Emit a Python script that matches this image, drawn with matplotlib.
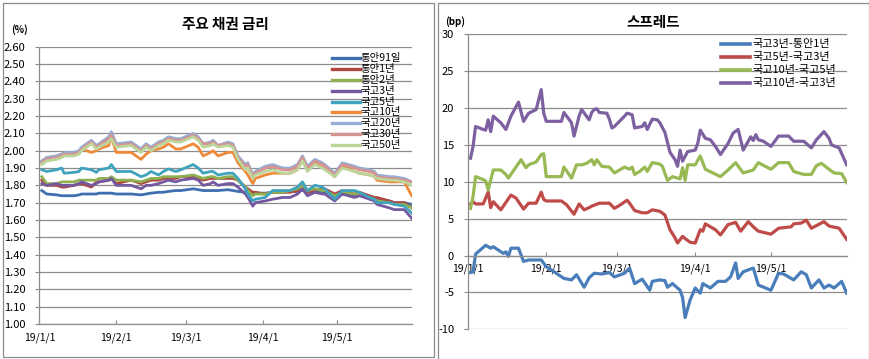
import matplotlib
matplotlib.use("Agg")
import matplotlib.pyplot as plt
import matplotlib.dates as mdates
from matplotlib.lines import Line2D
from matplotlib.patches import Rectangle
from matplotlib.ticker import MultipleLocator, FuncFormatter
import pandas as pd

plt.rcParams['font.family'] = ['Noto Sans CJK KR', 'DejaVu Sans']

# ---- 주요 채권 금리 (%) : shared date grid ----
rate_dates = ['01-02', '01-04', '01-08', '01-10', '01-11', '01-15', '01-17', '01-18', '01-22', '01-24', '01-25', '01-29', '01-30',
              '02-01', '02-07', '02-11', '02-13', '02-15', '02-18', '02-20', '02-22', '02-25', '02-27',
              '03-04', '03-06', '03-08', '03-11', '03-12', '03-14', '03-18', '03-20', '03-22', '03-25', '03-26', '03-28', '03-29',
              '04-02', '04-05', '04-09', '04-12', '04-15', '04-17', '04-19', '04-22', '04-25', '04-26', '04-30',
              '05-03', '05-08', '05-10', '05-14', '05-16', '05-17', '05-22', '05-24', '05-28', '05-31']

msb_91d = [1.77, 1.75, 1.745, 1.74, 1.74, 1.74, 1.745, 1.75, 1.75, 1.75, 1.755, 1.755, 1.755,
           1.75, 1.75, 1.745, 1.75, 1.755, 1.76, 1.76, 1.765, 1.77, 1.77,
           1.78, 1.775, 1.77, 1.77, 1.77, 1.77, 1.775, 1.77, 1.765, 1.76, 1.755, 1.755, 1.755,
           1.755, 1.76, 1.76, 1.765, 1.765, 1.77, 1.765, 1.765, 1.76, 1.76, 1.745,
           1.75, 1.74, 1.745, 1.73, 1.72, 1.72, 1.71, 1.70, 1.70, 1.69]
msb_1y = [1.83, 1.80, 1.80, 1.79, 1.79, 1.80, 1.81, 1.81, 1.79, 1.82, 1.82, 1.83, 1.84,
          1.81, 1.83, 1.81, 1.82, 1.83, 1.83, 1.84, 1.84, 1.84, 1.85,
          1.85, 1.84, 1.83, 1.84, 1.84, 1.84, 1.84, 1.84, 1.83, 1.79, 1.78, 1.76, 1.76,
          1.75, 1.76, 1.76, 1.76, 1.77, 1.78, 1.76, 1.77, 1.78, 1.78, 1.75,
          1.77, 1.75, 1.76, 1.74, 1.73, 1.73, 1.71, 1.70, 1.70, 1.67]
msb_2y = [1.85, 1.81, 1.81, 1.82, 1.82, 1.82, 1.83, 1.83, 1.83, 1.83, 1.84, 1.84, 1.85,
          1.83, 1.83, 1.82, 1.83, 1.84, 1.84, 1.85, 1.85, 1.85, 1.85,
          1.86, 1.85, 1.84, 1.85, 1.85, 1.84, 1.85, 1.85, 1.83, 1.79, 1.77, 1.74, 1.75,
          1.75, 1.76, 1.76, 1.77, 1.78, 1.80, 1.77, 1.78, 1.77, 1.77, 1.74,
          1.76, 1.75, 1.75, 1.73, 1.72, 1.71, 1.70, 1.69, 1.69, 1.67]
ktb_3y = [1.81, 1.80, 1.81, 1.80, 1.80, 1.80, 1.81, 1.82, 1.80, 1.81, 1.82, 1.83, 1.84,
          1.80, 1.80, 1.78, 1.80, 1.80, 1.81, 1.82, 1.83, 1.82, 1.83,
          1.84, 1.83, 1.80, 1.81, 1.82, 1.80, 1.81, 1.81, 1.79, 1.75, 1.73, 1.68, 1.70,
          1.71, 1.72, 1.73, 1.73, 1.75, 1.78, 1.74, 1.76, 1.75, 1.75, 1.71,
          1.75, 1.73, 1.74, 1.72, 1.71, 1.69, 1.67, 1.66, 1.66, 1.61]
ktb_5y = [1.89, 1.88, 1.89, 1.90, 1.87, 1.875, 1.88, 1.90, 1.89, 1.875, 1.89, 1.90, 1.92,
          1.88, 1.88, 1.85, 1.86, 1.88, 1.86, 1.88, 1.895, 1.88, 1.89,
          1.92, 1.90, 1.87, 1.88, 1.88, 1.86, 1.87, 1.87, 1.84, 1.78, 1.75, 1.71, 1.72,
          1.73, 1.77, 1.77, 1.77, 1.79, 1.82, 1.77, 1.80, 1.79, 1.78, 1.72,
          1.77, 1.77, 1.76, 1.73, 1.72, 1.70, 1.70, 1.69, 1.68, 1.64]
ktb_10y = [1.94, 1.96, 1.97, 1.98, 1.98, 1.98, 1.99, 2.01, 1.99, 2.00, 2.01, 2.03, 2.08,
           1.99, 1.99, 1.95, 1.98, 2.00, 2.01, 2.02, 2.04, 2.01, 2.01,
           2.04, 2.02, 1.97, 1.99, 2.00, 1.97, 1.99, 1.99, 1.93, 1.88, 1.86, 1.81, 1.84,
           1.86, 1.87, 1.87, 1.87, 1.89, 1.95, 1.89, 1.93, 1.91, 1.90, 1.85,
           1.91, 1.88, 1.87, 1.86, 1.85, 1.83, 1.82, 1.82, 1.82, 1.74]
ktb_20y = [1.94, 1.96, 1.97, 1.98, 1.99, 1.99, 2.00, 2.02, 2.06, 2.03, 2.04, 2.08, 2.11,
           2.04, 2.05, 2.01, 2.04, 2.02, 2.05, 2.06, 2.08, 2.07, 2.07,
           2.10, 2.08, 2.04, 2.05, 2.06, 2.03, 2.05, 2.04, 1.97, 1.92, 1.93, 1.86, 1.88,
           1.91, 1.92, 1.90, 1.90, 1.92, 1.97, 1.91, 1.95, 1.93, 1.92, 1.87,
           1.93, 1.91, 1.90, 1.89, 1.88, 1.86, 1.85, 1.85, 1.84, 1.82]
ktb_30y = [1.93, 1.95, 1.96, 1.97, 1.98, 1.98, 1.99, 2.01, 2.05, 2.02, 2.03, 2.07, 2.09,
           2.03, 2.04, 2.00, 2.03, 2.01, 2.04, 2.05, 2.07, 2.06, 2.06,
           2.09, 2.07, 2.04, 2.04, 2.05, 2.03, 2.04, 2.03, 1.96, 1.91, 1.92, 1.85, 1.87,
           1.90, 1.91, 1.89, 1.89, 1.91, 1.96, 1.90, 1.94, 1.92, 1.91, 1.86,
           1.92, 1.90, 1.89, 1.88, 1.87, 1.85, 1.84, 1.84, 1.83, 1.82]
ktb_50y = [1.92, 1.94, 1.95, 1.96, 1.97, 1.97, 1.98, 2.00, 2.04, 2.01, 2.02, 2.05, 2.07,
           2.02, 2.03, 1.99, 2.02, 2.00, 2.03, 2.04, 2.06, 2.05, 2.05,
           2.08, 2.06, 2.02, 2.03, 2.04, 2.02, 2.03, 2.02, 1.95, 1.89, 1.90, 1.84, 1.86,
           1.88, 1.89, 1.87, 1.87, 1.89, 1.94, 1.88, 1.92, 1.90, 1.89, 1.85,
           1.90, 1.88, 1.87, 1.86, 1.85, 1.84, 1.83, 1.83, 1.82, 1.80]

rate_names = ['통안91일', '통안1년', '통안2년', '국고3년', '국고5년', '국고10년', '국고20년', '국고30년', '국고50년']
rate_colors = ['#3F6FAE', '#B04642', '#8FB050', '#7459A0', '#3FA3BE', '#EE8A3A', '#93ADD6', '#D69491', '#BCD59A']

# ---- 스프레드 (bp) ----
sp_3y_1y_dates = ['01-02', '01-03', '01-04', '01-08', '01-10', '01-11', '01-15', '01-16', '01-17', '01-18', '01-21', '01-23',
                  '01-25', '01-30', '02-01', '02-08', '02-11', '02-13', '02-16', '02-18', '02-20', '02-23', '02-26', '02-28',
                  '03-04', '03-06', '03-08', '03-11', '03-14', '03-15', '03-18', '03-20', '03-21', '03-23', '03-26', '03-27',
                  '03-28', '03-30', '04-01', '04-03', '04-04', '04-07', '04-10', '04-13', '04-15', '04-17', '04-18', '04-20',
                  '04-24', '04-26', '05-01', '05-04', '05-06', '05-10', '05-13', '05-15', '05-17', '05-20', '05-22', '05-24',
                  '05-26', '05-29', '05-31']
sp_3y_1y = [-2.3, -2.2, 0.2, 1.4, 1.0, 1.2, 0.3, 0.5, -0.1, 1.0, 1.0, -0.8,
            -0.6, -0.6, -1.5, -3.1, -3.3, -2.6, -4.3, -3.0, -2.4, -2.5, -2.3, -2.9,
            -2.4, -1.7, -3.8, -3.2, -4.7, -3.5, -3.3, -3.4, -4.3, -3.8, -4.7, -5.7,
            -8.4, -6.0, -4.4, -5.1, -3.8, -4.4, -3.5, -3.5, -2.9, -1.0, -3.1, -2.2,
            -1.7, -4.0, -4.7, -2.4, -2.5, -3.3, -2.2, -2.6, -4.4, -3.3, -4.4, -4.0,
            -4.4, -3.5, -5.1]

sp_5y_3y_dates = ['01-02', '01-03', '01-04', '01-07', '01-09', '01-10', '01-11', '01-14', '01-18', '01-20', '01-23', '01-25',
                  '01-28', '01-30', '01-31', '02-01', '02-07', '02-09', '02-12', '02-14', '02-16', '02-18', '02-19', '02-22',
                  '02-26', '02-28', '03-02', '03-05', '03-06', '03-08', '03-11', '03-13', '03-15', '03-18', '03-20', '03-22',
                  '03-24', '03-25', '03-27', '03-28', '03-30', '04-01', '04-03', '04-04', '04-05', '04-07', '04-09', '04-11',
                  '04-14', '04-17', '04-19', '04-22', '04-24', '04-26', '05-01', '05-04', '05-09', '05-10', '05-13', '05-15',
                  '05-17', '05-22', '05-24', '05-28', '05-31']
sp_5y_3y = [7.0, 7.3, 7.0, 7.0, 8.6, 6.5, 7.3, 6.2, 8.2, 7.8, 6.3, 7.1,
            7.1, 8.6, 7.6, 7.4, 7.4, 6.9, 5.6, 7.0, 6.2, 6.5, 6.7, 7.1,
            7.1, 6.4, 6.8, 7.5, 7.1, 6.1, 5.8, 5.8, 6.2, 6.0, 5.5, 3.5,
            2.4, 1.7, 2.6, 2.3, 1.8, 1.7, 3.5, 3.3, 4.3, 3.9, 3.5, 2.8,
            4.2, 4.5, 3.3, 4.6, 3.9, 3.3, 2.9, 3.7, 3.9, 4.3, 4.4, 4.8,
            3.7, 4.6, 4.0, 3.7, 2.2]

sp_10y_5y_dates = ['01-02', '01-03', '01-04', '01-07', '01-08', '01-09', '01-11', '01-14', '01-16', '01-17', '01-22', '01-24',
                   '01-25', '01-28', '01-30', '01-31', '02-01', '02-07', '02-08', '02-11', '02-13', '02-15', '02-17', '02-19',
                   '02-20', '02-21', '02-23', '02-26', '02-28', '03-02', '03-04', '03-06', '03-07', '03-08', '03-10', '03-12',
                   '03-13', '03-15', '03-18', '03-19', '03-21', '03-23', '03-26', '03-27', '03-28', '03-29', '04-01', '04-03',
                   '04-05', '04-08', '04-11', '04-14', '04-17', '04-20', '04-24', '04-26', '05-01', '05-04', '05-08', '05-10',
                   '05-14', '05-17', '05-19', '05-21', '05-24', '05-26', '05-29', '05-31']
sp_10y_5y = [6.4, 8.0, 10.7, 10.3, 10.1, 8.9, 11.6, 11.6, 11.0, 10.5, 13.0, 11.9,
             12.3, 12.7, 13.7, 13.8, 10.7, 10.7, 12.0, 10.5, 12.3, 12.3, 12.5, 13.0,
             12.3, 13.0, 12.1, 12.0, 11.2, 11.6, 12.0, 11.7, 12.0, 11.0, 11.4, 12.0,
             11.4, 12.6, 12.4, 12.1, 10.2, 10.7, 10.4, 11.9, 10.2, 12.3, 12.3, 13.5,
             11.7, 11.2, 10.7, 11.6, 12.6, 11.2, 11.6, 12.6, 11.7, 12.6, 12.6, 11.4,
             11.0, 11.0, 12.2, 12.5, 11.7, 11.2, 11.1, 9.9]

sp_10y_3y_dates = ['01-02', '01-03', '01-04', '01-07', '01-08', '01-09', '01-10', '01-11', '01-14', '01-16', '01-18', '01-21',
                   '01-23', '01-25', '01-28', '01-30', '01-31', '02-01', '02-07', '02-08', '02-11', '02-12', '02-14', '02-15',
                   '02-18', '02-19', '02-20', '02-21', '02-22', '02-25', '02-26', '02-27', '02-28', '03-04', '03-05', '03-07',
                   '03-08', '03-11', '03-12', '03-13', '03-15', '03-17', '03-18', '03-20', '03-22', '03-24', '03-25', '03-26',
                   '03-27', '03-29', '04-01', '04-02', '04-03', '04-05', '04-07', '04-09', '04-11', '04-14', '04-16', '04-18',
                   '04-20', '04-22', '04-23', '04-24', '04-25', '04-26', '04-28', '05-01', '05-04', '05-08', '05-10', '05-14',
                   '05-17', '05-19', '05-22', '05-24', '05-25', '05-28', '05-31']
sp_10y_3y = [13.2, 14.8, 17.5, 17.1, 17.0, 18.4, 16.8, 18.9, 18.0, 17.1, 18.9, 20.8,
             18.2, 19.3, 19.8, 22.5, 19.3, 18.2, 18.2, 19.4, 18.0, 16.2, 18.9, 19.8,
             18.4, 19.4, 19.8, 19.9, 19.4, 19.3, 18.5, 17.3, 17.5, 18.9, 19.3, 19.1,
             17.3, 17.5, 18.0, 17.1, 18.5, 18.4, 18.0, 16.7, 14.0, 13.0, 12.1, 14.3,
             12.8, 14.1, 14.3, 15.2, 17.0, 15.9, 15.7, 14.8, 13.7, 15.2, 16.6, 17.1,
             14.3, 15.5, 16.1, 15.6, 16.4, 15.7, 15.5, 14.8, 16.2, 16.2, 15.5, 15.5,
             14.6, 15.7, 16.8, 15.9, 15.0, 14.6, 12.3]

spread_names = ['국고3년-통안1년', '국고5년-국고3년', '국고10년-국고5년', '국고10년-국고3년']
spread_colors = ['#4A7EBB', '#BE4B48', '#98B954', '#7D60A0']


def to_dt(ds):
    return pd.to_datetime(['2019-' + d for d in ds])


W, H = 870, 359
GRID = '#8c8c8c'
fig = plt.figure(figsize=(W / 100, H / 100), dpi=100)


def fx(px):
    return px / W


def fy(py):
    return 1 - py / H


# chart frames
fig.add_artist(Rectangle((fx(3), fy(357)), fx(431), 354 / H, transform=fig.transFigure,
                         fill=False, ec=GRID, lw=0.9))
fig.add_artist(Rectangle((fx(438), -0.02), fx(431), 1.02 - 3 / H, transform=fig.transFigure,
                         fill=False, ec=GRID, lw=0.9))


def date_fmt(v, pos):
    d = mdates.num2date(v)
    return f"{d:%y}/{d.month}/{d.day}"


def style_axes(ax):
    ax.set_xlim(pd.Timestamp('2019-01-01'), pd.Timestamp('2019-05-31'))
    ax.xaxis.set_major_locator(mdates.MonthLocator())
    ax.xaxis.set_major_formatter(FuncFormatter(date_fmt))
    ax.grid(axis='y', color=GRID, lw=0.9)
    ax.set_axisbelow(True)
    for s in ['top', 'right']:
        ax.spines[s].set_visible(False)
    for s in ['left', 'bottom']:
        ax.spines[s].set_color(GRID)
        ax.spines[s].set_linewidth(0.9)
    ax.tick_params(axis='y', direction='out', length=3, color=GRID, labelsize=8, pad=7)
    ax.tick_params(axis='x', direction='in', length=3, color=GRID, labelsize=7.5, pad=6)


# ---- left: 주요 채권 금리 ----
ax1 = fig.add_axes([fx(39.3), fy(324), fx(372.4), 277.3 / H])
style_axes(ax1)
ax1.set_ylim(1.0, 2.6)
ax1.yaxis.set_major_locator(MultipleLocator(0.1))
ax1.yaxis.set_major_formatter(FuncFormatter(lambda v, p: f"{v:.2f}"))

rate_series = [msb_91d, msb_1y, msb_2y, ktb_3y, ktb_5y, ktb_10y, ktb_20y, ktb_30y, ktb_50y]
rd = to_dt(rate_dates)
for vals, c in zip(rate_series, rate_colors):
    ax1.plot(rd, vals, color=c, lw=2.0, solid_joinstyle='round')

fig.text(fx(225.5), fy(24), '주요 채권 금리', ha='center', va='center', fontsize=10.5, fontweight='bold')
fig.text(fx(20), fy(30), '(%)', ha='center', va='center', fontsize=7, fontweight='bold')

for i, (name, c) in enumerate(zip(rate_names, rate_colors)):
    y = fy(58.3 + i * 10.84)
    fig.add_artist(Line2D([fx(332), fx(360)], [y, y], transform=fig.transFigure, color=c, lw=2.4))
    fig.text(fx(361), y, name, ha='left', va='center', fontsize=7.5)

# ---- right: 스프레드 ----
ax2 = fig.add_axes([fx(468), fy(329.3), fx(378.7), 295 / H])
style_axes(ax2)
ax2.set_ylim(-10, 30)
ax2.yaxis.set_major_locator(MultipleLocator(5))
ax2.yaxis.set_major_formatter(FuncFormatter(lambda v, p: f"{v:.0f}"))
ax2.spines['bottom'].set_position(('data', 0))

spread_series = [(sp_3y_1y_dates, sp_3y_1y), (sp_5y_3y_dates, sp_5y_3y),
                 (sp_10y_5y_dates, sp_10y_5y), (sp_10y_3y_dates, sp_10y_3y)]
for (ds, vals), c in zip(spread_series, spread_colors):
    ax2.plot(to_dt(ds), vals, color=c, lw=2.3, solid_joinstyle='round')

fig.text(fx(653), fy(22), '스프레드', ha='center', va='center', fontsize=10.5, fontweight='bold')
fig.text(fx(455), fy(22), '(bp)', ha='center', va='center', fontsize=7, fontweight='bold')

for i, (name, c) in enumerate(zip(spread_names, spread_colors)):
    y = fy(44.3 + i * 12.8)
    fig.add_artist(Line2D([fx(721), fx(750)], [y, y], transform=fig.transFigure, color=c, lw=2.6))
    fig.text(fx(752), y, name, ha='left', va='center', fontsize=8)

fig.savefig('out.png', dpi=100)
